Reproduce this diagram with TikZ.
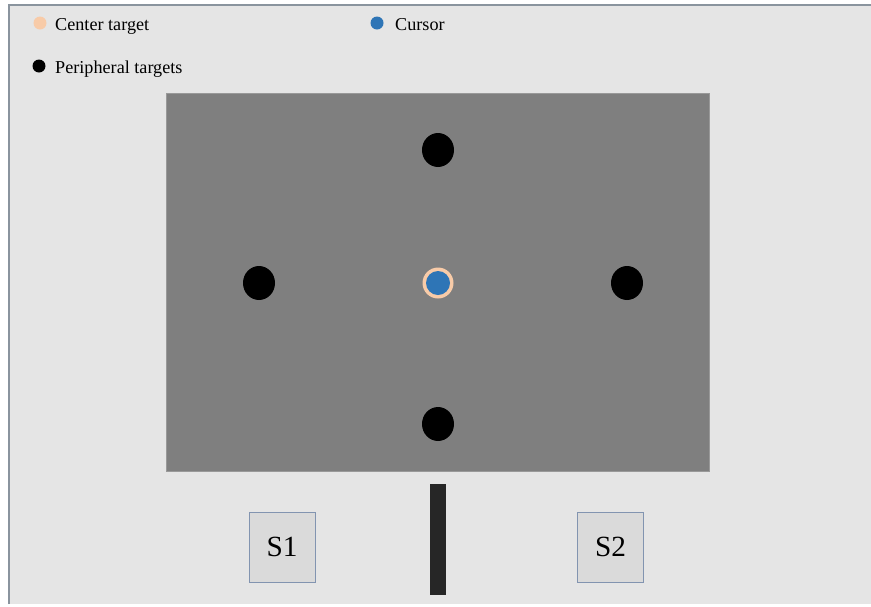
\documentclass[tikz,border=0pt]{standalone}
\usepackage{fontspec}
\setmainfont{Liberation Serif}
\usepackage{tikz}
\usepackage{xcolor}
\usetikzlibrary{positioning,shapes.geometric}
\definecolor{panelgray}{HTML}{E5E5E5}
\definecolor{framegray}{HTML}{8A949E}
\definecolor{fieldgray}{HTML}{7F7F7F}
\definecolor{centerpeach}{HTML}{F8CBA8}
\definecolor{cursorblue}{HTML}{2E75B6}
\definecolor{sensorfill}{HTML}{DADADA}
\definecolor{sensorline}{HTML}{8294B0}
\definecolor{barblack}{HTML}{262626}

\begin{document}
\begin{tikzpicture}[
  x=0.03cm, y=-0.03cm,
  every node/.style={font=\fontsize{15.5}{18}\selectfont},
  dot/.style={circle,inner sep=0pt,minimum size=13*0.03cm},
  legtext/.style={anchor=base west,inner sep=0pt},
  target/.style={ellipse,fill=black,inner sep=0pt,minimum width=32*0.03cm,minimum height=34*0.03cm},
  sensor/.style={draw=sensorline,fill=sensorfill,inner sep=0pt,
    minimum width=66*0.03cm,minimum height=70*0.03cm,font=\fontsize{25}{28}\selectfont},
]
\useasboundingbox (0,0) rectangle (871,606);
% ---- panel ----
\fill[panelgray] (9,5) rectangle (871,604);
\draw[framegray,line width=1pt] (9,604) -- (9,5) -- (871,5);
% ---- legend ----
\node[dot,fill=centerpeach] (lc) at (40,23) {};
\node[legtext] (lctext) at (55,30.5) {Center target};
\node[dot,fill=cursorblue] (lu) at (377,23) {};
\node[legtext] (lutext) at (395,30.5) {Cursor};
\node[dot,fill=black] (lp) at (39,66) {};
\node[legtext] (lptext) at (55,73) {Peripheral targets};
% ---- workspace ----
\node[draw=gray!80,fill=fieldgray,inner sep=0pt,minimum width=543*0.03cm,
      minimum height=378*0.03cm] (field) at (437.5,282) {};
\node[target] (ttop)   at (438,150) {};
\node[target] (tleft)  at (259,283) {};
\node[target] (tright) at (627,283) {};
\node[target] (tbot)   at (438,424) {};
\node[circle,fill=centerpeach,inner sep=0pt,minimum size=31*0.03cm] (center) at (438,283) {};
\node[circle,fill=cursorblue,inner sep=0pt,minimum size=24*0.03cm] (cursor) at (438,283) {};
% ---- divider and sensors ----
\node[fill=barblack,inner sep=0pt,minimum width=16*0.03cm,minimum height=111*0.03cm] (bar) at (438,539.5) {};
\node[sensor] (s1) at (282,547) {S1};
\node[sensor] (s2) at (610.5,547) {S2};
\end{tikzpicture}
\end{document}
